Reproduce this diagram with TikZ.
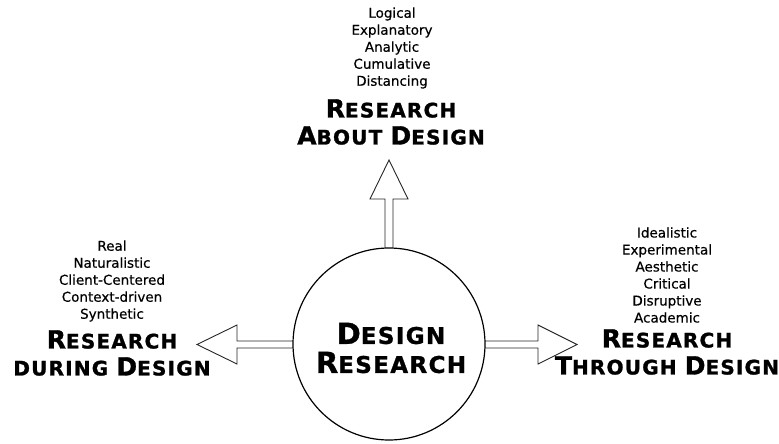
\documentclass[tikz,border=0pt]{standalone}
\usepackage{fontspec}
\setmainfont{DejaVu Sans}
\newcommand\BigL[1]{{\fontsize{25}{27}\selectfont #1}}
\newcommand\SmL[1]{{\fontsize{20}{27}\selectfont #1}}
\newcommand\BigC[1]{{\fontsize{29}{31}\selectfont #1}}
\newcommand\SmC[1]{{\fontsize{23}{31}\selectfont #1}}
\tikzset{
  listtxt/.style={align=center, inner sep=0pt, font=\addfontfeature{FakeBold=0.4}\fontsize{13.5}{17}\selectfont},
  hdr/.style={align=center, inner sep=0pt, font=\bfseries\addfontfeature{LetterSpace=6,FakeBold=1.2}\fontsize{20}{27}\selectfont},
  hubtext/.style={align=center, inner sep=0pt, font=\bfseries\addfontfeature{LetterSpace=6,FakeBold=1.2}\fontsize{23}{29}\selectfont},
  arr/.style={draw=black!85, line width=0.9pt, fill=white, line join=miter},
  hub/.style={circle, draw=black, line width=1.2pt, fill=white, minimum size=192pt, inner sep=0pt}
}
\begin{document}
\begin{tikzpicture}[x=1pt,y=-1pt]
\useasboundingbox (0,0) rectangle (779,444);
\coordinate (c) at (389,344);
% arrows (drawn before circle so shafts tuck under it)
\draw[arr] (385,300) -- (385,199) -- (370,199) -- (389,160) -- (408,199) -- (393,199) -- (393,300) -- cycle;
\draw[arr] (330,341) -- (237,341) -- (237,325) -- (197,344.5) -- (237,364) -- (237,348) -- (330,348) -- cycle;
\draw[arr] (450,341) -- (538,341) -- (538,325) -- (577,344.5) -- (538,364) -- (538,348) -- (450,348) -- cycle;
\node[hub] (hub) at (c) {};
\node[hubtext] (hubtxt) at (391,348) {\BigC{D}\SmC{ESIGN}\\\BigC{R}\SmC{ESEARCH}};
% top
\node[listtxt] (toplist) at (392,48) {Logical\\Explanatory\\Analytic\\Cumulative\\Distancing};
\node[hdr] (tophdr) at (391,122) {\BigL{R}\SmL{ESEARCH}\\\BigL{A}\SmL{BOUT} \BigL{D}\SmL{ESIGN}};
% left
\node[listtxt] (leftlist) at (112,281) {Real\\Naturalistic\\Client-Centered\\Context-driven\\Synthetic};
\node[hdr] (lefthdr) at (112,353) {\BigL{R}\SmL{ESEARCH}\\\SmL{DURING} \BigL{D}\SmL{ESIGN}};
% right
\node[listtxt] (rightlist) at (667,275) {Idealistic\\Experimental\\Aesthetic\\Critical\\Disruptive\\Academic};
\node[hdr] (righthdr) at (667,352) {\BigL{R}\SmL{ESEARCH}\\\BigL{T}\SmL{HROUGH} \BigL{D}\SmL{ESIGN}};
\end{tikzpicture}
\end{document}
